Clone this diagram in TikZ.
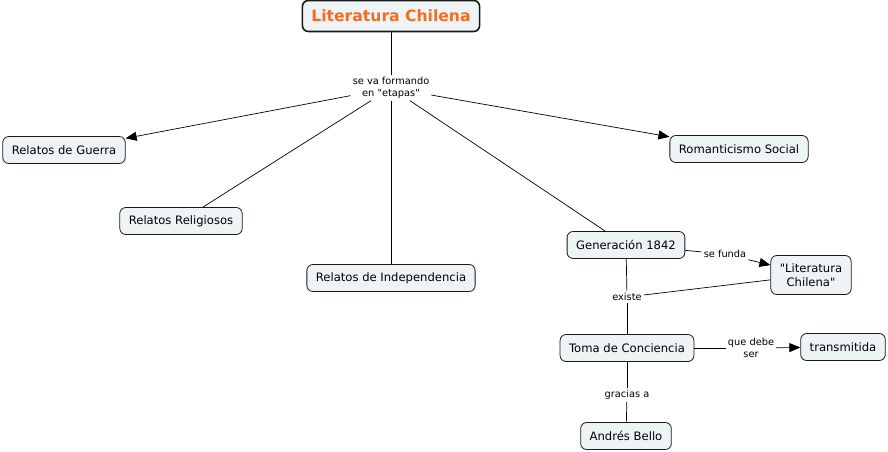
\documentclass[tikz,border=0pt]{standalone}
\usepackage{fontspec}
\setmainfont{DejaVu Sans}
\usepackage{xcolor}
\usepackage{tikz}
\usetikzlibrary{arrows.meta, positioning}
\definecolor{conceptfill}{RGB}{238,244,246}
\definecolor{titleorange}{RGB}{243,108,33}
\tikzset{
    concept/.style={rectangle, rounded corners=6pt, minimum height=27pt, inner xsep=9pt, text centered, align=center, draw=black!90, line width=0.8pt, fill=conceptfill, font=\fontsize{11.6}{13.5}\selectfont},
    maintitle/.style={concept, line width=1.6pt, minimum height=31pt, inner xsep=9pt, text=titleorange, font=\fontsize{15.6}{18}\selectfont\bfseries},
    linkword/.style={inner sep=2pt, align=center, fill=white, font=\fontsize{9.8}{11.5}\selectfont},
    link/.style={line width=0.7pt},
    arrow/.style={link, -{Triangle[length=11pt,width=9pt]}}
}

\begin{document}
\begin{tikzpicture}[x=1pt, y=-1pt]
    \useasboundingbox (0,0) rectangle (888,451);

    \node (titulo) [maintitle] at (391,16) {Literatura Chilena};
    \node (etapas) [linkword] at (391,88) {se va formando\\en \textquotedbl etapas\textquotedbl};
    \node (guerra) [concept] at (64,150) {Relatos de Guerra};
    \node (religiosos) [concept] at (181,221) {Relatos Religiosos};
    \node (indep) [concept] at (391,278) {Relatos de Independencia};
    \node (romantic) [concept] at (739,149) {Romanticismo Social};
    \node (gen) [concept] at (626,245) {Generación 1842};
    \node (sefunda) [linkword] at (725,254) {se funda};
    \node (litchil) [concept, minimum height=39pt] at (811,275) {\textquotedbl Literatura\\Chilena\textquotedbl};
    \node (existe) [linkword] at (627,297) {existe};
    \node (toma) [concept] at (627,348) {Toma de Conciencia};
    \node (quedebe) [linkword] at (751,348) {que debe\\ser};
    \node (transm) [concept] at (843,347) {transmitida};
    \node (gracias) [linkword] at (627,395) {gracias a};
    \node (bello) [concept] at (626,436) {Andrés Bello};

    \draw [link] (titulo) -- (etapas);
    \draw [arrow] (etapas) -- (guerra);
    \draw [link] (etapas) -- (religiosos);
    \draw [link] (etapas) -- (indep);
    \draw [link] (etapas) -- (gen);
    \draw [arrow] (etapas) -- (romantic);
    \draw [link] (gen) -- (sefunda);
    \draw [arrow] (sefunda) -- (litchil);
    \draw [link] (gen) -- (existe);
    \draw [link] (existe) -- (litchil);
    \draw [link] (existe) -- (toma);
    \draw [link] (toma) -- (quedebe);
    \draw [arrow] (quedebe) -- (transm);
    \draw [link] (toma) -- (gracias);
    \draw [link] (gracias) -- (bello);
\end{tikzpicture}
\end{document}
